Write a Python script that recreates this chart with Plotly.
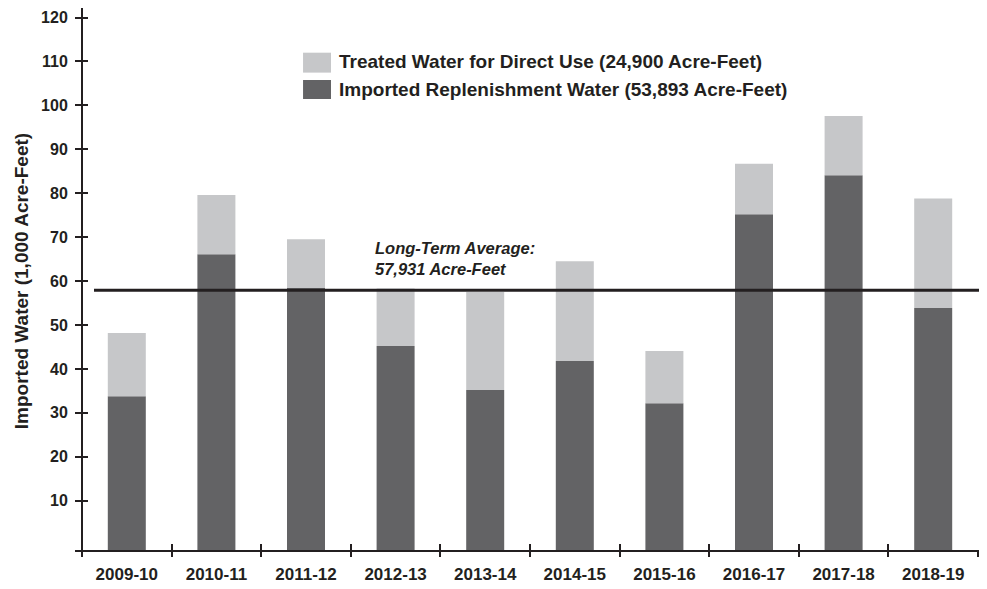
import plotly.graph_objects as go
import numpy as np

# ---- data ----
years = ["2009-10", "2010-11", "2011-12", "2012-13", "2013-14",
         "2014-15", "2015-16", "2016-17", "2017-18", "2018-19"]
replenishment = [33.8, 66.1, 58.4, 45.2, 35.2, 41.8, 32.2, 75.2, 84.1, 53.893]
treated = [14.4, 13.5, 11.1, 13.1, 22.3, 22.7, 11.9, 11.5, 13.5, 24.9]
long_term_avg = 57.931
y_ticks = [10, 20, 30, 40, 50, 60, 70, 80, 90, 100, 110, 120]

# ---- styles ----
LIGHT = "#c6c7c9"
DARK = "#636365"
INK = "#231f20"
FONT = "Liberation Sans, Arial, sans-serif"
Y_FLOOR = -1.45
Y_TOP = 122.17

fig = go.Figure()
fig.add_trace(go.Bar(
    x=years, y=[v - Y_FLOOR for v in replenishment], base=Y_FLOOR,
    marker=dict(color=DARK, line=dict(width=0)), width=0.424,
    name="Imported Replenishment Water", showlegend=False,
))
fig.add_trace(go.Bar(
    x=years, y=treated, base=replenishment,
    marker=dict(color=LIGHT, line=dict(width=0)), width=0.424,
    name="Treated Water for Direct Use", showlegend=False,
))

# page body has an 8px default margin, so the figure is sized to fit after it
fig.update_layout(
    width=979, height=581,
    margin=dict(l=74, r=9, t=0, b=38),
    paper_bgcolor="white", plot_bgcolor="white",
    barmode="overlay",
    font=dict(family=FONT, color=INK),
    xaxis=dict(
        type="category", range=[-0.5, 9.5], automargin=False,
        showgrid=False, zeroline=False, showline=False,
        ticks="outside", ticklen=5, tickwidth=1.5, tickcolor=INK,
        tickson="boundaries", tickangle=0,
        tickfont=dict(family=FONT, size=17, color=INK, weight="bold"),
        ticklabelstandoff=11,
    ),
    xaxis2=dict(
        overlaying="x", range=[-0.5, 9.5], side="bottom", automargin=False,
        tickvals=list(np.arange(0.5, 10, 1.0)),
        showgrid=False, zeroline=False, showline=False,
        ticks="inside", ticklen=7, tickwidth=1.5, tickcolor=INK,
        showticklabels=False,
    ),
    yaxis=dict(
        range=[Y_FLOOR, Y_TOP], tickvals=y_ticks, automargin=False,
        showgrid=False, zeroline=False, showline=False,
        ticks="outside", ticklen=6, tickwidth=1.5, tickcolor=INK,
        tickfont=dict(family=FONT, size=16, color=INK, weight="bold"),
        ticklabelstandoff=4,
    ),
    yaxis2=dict(
        overlaying="y", range=[Y_FLOOR, Y_TOP], tickvals=y_ticks, side="left",
        automargin=False,
        showgrid=False, zeroline=False, showline=False,
        ticks="inside", ticklen=6, tickwidth=1.5, tickcolor=INK,
        showticklabels=False,
    ),
)

# invisible trace so the overlay axes (inner tick halves) render
fig.add_trace(go.Scatter(x=[0], y=[0], xaxis="x2", yaxis="y2",
                         mode="markers", marker=dict(opacity=0),
                         showlegend=False, hoverinfo="skip"))

shapes = [
    # y axis line (extends slightly below x axis)
    dict(type="line", xref="paper", yref="paper", x0=0, x1=0, y0=-0.0092, y1=1.0,
         line=dict(color=INK, width=2)),
    # x axis line (extends slightly left)
    dict(type="line", xref="paper", yref="paper", x0=-0.0078, x1=1.01, y0=0, y1=0,
         line=dict(color=INK, width=2)),
    # long-term average line
    dict(type="line", xref="paper", yref="y", x0=0.0134, x1=1.0033,
         y0=long_term_avg, y1=long_term_avg,
         line=dict(color=INK, width=3)),
    # legend swatches
    dict(type="rect", xref="paper", yref="paper", x0=0.2467, x1=0.2779,
         y0=0.881, y1=0.9177, fillcolor=LIGHT, line=dict(width=0)),
    dict(type="rect", xref="paper", yref="paper", x0=0.2467, x1=0.2779,
         y0=0.8324, y1=0.8674, fillcolor=DARK, line=dict(width=0)),
]
fig.update_layout(shapes=shapes)

annotations = [
    dict(text="Treated Water for Direct Use (24,900 Acre-Feet)",
         xref="paper", yref="paper", x=0.2846, y=0.9006, xanchor="left", yanchor="middle",
         showarrow=False, font=dict(family=FONT, size=19, color=INK, weight="bold")),
    dict(text="Imported Replenishment Water (53,893 Acre-Feet)",
         xref="paper", yref="paper", x=0.2846, y=0.849, xanchor="left", yanchor="middle",
         showarrow=False, font=dict(family=FONT, size=19, color=INK, weight="bold")),
    dict(text="<i>Long-Term Average:<br>57,931 Acre-Feet</i>",
         xref="paper", yref="paper", x=0.3248, y=0.5378, xanchor="left", yanchor="middle",
         align="left", showarrow=False,
         font=dict(family=FONT, size=16.5, color=INK, weight="bold")),
    dict(text="Imported Water (1,000 Acre-Feet)", textangle=-90,
         xref="paper", yref="paper", x=-0.068, y=0.497, xanchor="center", yanchor="middle",
         showarrow=False, font=dict(family=FONT, size=19, color=INK, weight="bold")),
]
fig.update_layout(annotations=annotations)

fig.write_html("out.html")
